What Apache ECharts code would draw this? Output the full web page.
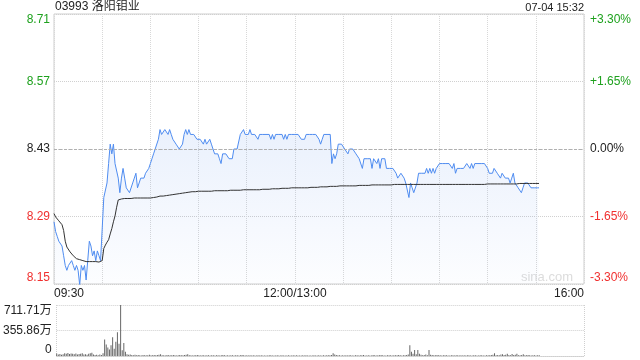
<!DOCTYPE html>
<html><head><meta charset="utf-8">
<script src="https://cdn.jsdelivr.net/npm/echarts@6/dist/echarts.min.js"></script>
<style>html,body{margin:0;padding:0;background:#fff}#c{width:640px;height:360px}</style>
</head><body><div id="c"></div>
<script>
const titleText = '03993 洛阳钼业';
const stampText = '07-04 15:32';
const prevClose = 8.43;
const priceTickLabels = ['8.15','8.29','8.43','8.57','8.71'];
const pctTickLabels = ['-3.30%','-1.65%','0.00%','+1.65%','+3.30%'];
const volTickLabels = ['0','355.86万','711.71万'];
const volMax = 711.71;
const timeTickValues = [0,150,330];
const timeTickLabels = ['09:30','12:00/13:00','16:00'];

// one value per minute from 09:30 (index 0) to 15:32 (index 302)
const prices = [
8.28,8.26,8.25,8.24,8.24,8.23,8.21,8.19,8.18,8.19,
8.19,8.20,8.19,8.18,8.19,8.18,8.15,8.19,8.18,8.19,
8.16,8.20,8.24,8.23,8.21,8.22,8.20,8.22,8.21,8.20,
8.20,8.33,8.33,8.36,8.40,8.44,8.42,8.44,8.40,8.40,
8.37,8.34,8.37,8.39,8.37,8.35,8.35,8.34,8.34,8.36,
8.37,8.38,8.35,8.35,8.37,8.37,8.37,8.38,8.38,8.39,
8.40,8.41,8.42,8.43,8.43,8.45,8.47,8.46,8.46,8.47,
8.47,8.46,8.47,8.46,8.45,8.45,8.44,8.44,8.43,8.43,
8.44,8.46,8.47,8.46,8.47,8.46,8.46,8.46,8.46,8.45,
8.45,8.45,8.45,8.44,8.45,8.44,8.44,8.45,8.44,8.44,
8.42,8.42,8.42,8.41,8.40,8.42,8.42,8.42,8.42,8.41,
8.41,8.41,8.43,8.43,8.43,8.43,8.46,8.46,8.47,8.46,
8.46,8.46,8.47,8.46,8.46,8.46,8.46,8.45,8.46,8.46,
8.46,8.46,8.46,8.46,8.46,8.45,8.46,8.45,8.46,8.46,
8.46,8.46,8.46,8.45,8.46,8.45,8.46,8.46,8.46,8.46,
8.46,8.46,8.46,8.46,8.45,8.45,8.45,8.46,8.46,8.46,
8.46,8.46,8.46,8.46,8.46,8.45,8.44,8.45,8.46,8.46,
8.46,8.46,8.46,8.40,8.42,8.41,8.42,8.44,8.44,8.44,
8.44,8.43,8.43,8.42,8.43,8.43,8.43,8.43,8.42,8.42,
8.41,8.41,8.39,8.41,8.41,8.41,8.41,8.41,8.39,8.41,
8.41,8.40,8.41,8.39,8.41,8.41,8.41,8.39,8.39,8.39,
8.39,8.39,8.39,8.38,8.37,8.37,8.38,8.38,8.37,8.36,
8.36,8.33,8.36,8.35,8.34,8.34,8.36,8.38,8.38,8.38,
8.38,8.38,8.39,8.38,8.39,8.38,8.39,8.38,8.39,8.39,
8.40,8.40,8.40,8.40,8.40,8.40,8.40,8.40,8.39,8.40,
8.38,8.39,8.39,8.39,8.39,8.39,8.39,8.40,8.40,8.39,
8.40,8.39,8.40,8.40,8.40,8.40,8.40,8.40,8.40,8.40,
8.39,8.38,8.38,8.38,8.39,8.39,8.38,8.38,8.37,8.38,
8.38,8.37,8.37,8.37,8.36,8.37,8.38,8.36,8.36,8.35,
8.35,8.34,8.35,8.36,8.36,8.36,8.36,8.35,8.35,8.35,
8.35,8.35,8.35
];

const avgPrices = [
8.297,8.290,8.286,8.282,8.278,8.274,8.262,8.240,8.228,8.224,
8.218,8.214,8.210,8.207,8.204,8.203,8.202,8.201,8.200,8.199,
8.198,8.198,8.198,8.198,8.198,8.198,8.198,8.198,8.197,8.197,
8.200,8.225,8.232,8.238,8.243,8.255,8.266,8.280,8.292,8.310,
8.325,8.326,8.327,8.327,8.328,8.328,8.328,8.328,8.328,8.329,
8.329,8.329,8.329,8.329,8.329,8.329,8.329,8.329,8.329,8.329,
8.329,8.330,8.330,8.331,8.331,8.332,8.333,8.333,8.333,8.334,
8.334,8.334,8.335,8.335,8.336,8.336,8.337,8.337,8.338,8.338,
8.339,8.339,8.340,8.341,8.341,8.341,8.342,8.342,8.342,8.342,
8.343,8.343,8.343,8.343,8.343,8.343,8.343,8.343,8.343,8.344,
8.344,8.344,8.344,8.344,8.344,8.344,8.344,8.344,8.344,8.344,
8.345,8.345,8.345,8.345,8.345,8.345,8.345,8.345,8.346,8.346,
8.346,8.346,8.346,8.346,8.346,8.346,8.346,8.346,8.346,8.346,
8.347,8.347,8.347,8.347,8.347,8.348,8.348,8.348,8.348,8.348,
8.348,8.349,8.349,8.349,8.349,8.349,8.349,8.349,8.350,8.350,
8.350,8.350,8.350,8.350,8.350,8.350,8.350,8.350,8.350,8.350,
8.351,8.351,8.351,8.351,8.351,8.352,8.352,8.352,8.352,8.352,
8.352,8.353,8.353,8.353,8.353,8.353,8.353,8.353,8.354,8.354,
8.354,8.354,8.354,8.354,8.354,8.354,8.354,8.354,8.354,8.354,
8.355,8.355,8.355,8.355,8.355,8.355,8.355,8.356,8.356,8.356,
8.356,8.356,8.356,8.356,8.356,8.356,8.356,8.356,8.356,8.356,
8.356,8.356,8.357,8.357,8.357,8.357,8.357,8.357,8.357,8.357,
8.357,8.357,8.357,8.357,8.357,8.357,8.357,8.357,8.357,8.357,
8.357,8.357,8.357,8.357,8.357,8.357,8.357,8.357,8.357,8.357,
8.357,8.357,8.357,8.357,8.357,8.357,8.357,8.357,8.357,8.357,
8.357,8.357,8.357,8.357,8.357,8.357,8.357,8.357,8.357,8.357,
8.357,8.357,8.357,8.357,8.357,8.357,8.357,8.357,8.357,8.357,
8.358,8.358,8.358,8.358,8.358,8.358,8.358,8.358,8.358,8.358,
8.358,8.358,8.358,8.358,8.358,8.358,8.358,8.358,8.358,8.358,
8.359,8.359,8.359,8.359,8.359,8.359,8.359,8.359,8.359,8.359,
8.359,8.359,8.359
];

// volume per minute, in 万
const volumes = [
35,22,28,18,25,38,30,42,28,35,
30,25,35,20,28,32,40,22,25,18,
30,38,45,20,15,18,12,22,15,40,
230,160,120,90,150,260,100,200,330,170,
711.71,80,180,60,25,18,22,15,12,18,
10,15,12,8,14,10,9,12,16,10,
12,15,10,14,18,25,12,10,8,14,
10,12,9,15,11,8,10,13,9,12,
14,18,25,12,10,8,11,9,13,10,
8,11,9,7,12,10,8,9,11,7,
12,9,8,10,14,11,7,9,8,10,
9,8,12,10,7,9,14,11,8,10,
7,9,8,10,6,8,9,7,11,8,
6,8,7,9,10,8,6,7,9,8,
7,9,6,8,7,10,8,6,9,7,
12,8,6,7,9,8,10,7,6,8,
7,9,8,6,10,8,7,9,8,12,
10,9,14,40,22,15,12,10,8,9,
8,10,7,9,12,8,7,9,10,8,
9,12,15,8,7,10,8,6,14,9,
8,10,12,14,9,8,7,12,10,9,
8,10,9,12,14,10,8,12,9,15,
20,150,60,30,85,25,85,30,18,12,
15,20,12,85,18,14,12,10,15,12,
10,8,9,12,10,8,7,9,10,8,
12,9,8,10,7,9,8,10,9,7,
8,10,9,7,8,10,9,8,7,9,
10,12,15,18,40,12,15,10,20,25,
15,18,30,14,12,28,15,18,30,12,
10,15,25,12,10,14,9,8,12,10,
8,10,12
];

const FONT = '"Liberation Sans","Noto Sans CJK SC",sans-serif';
const toPct = p => (p / prevClose - 1) * 100;
const priceData = prices.map((p, i) => [i, toPct(p)]);
const avgData = avgPrices.map((p, i) => [i, toPct(p)]);
const volData = volumes.map((v, i) => [i, v]);
const pctIdx = v => Math.round(v / 1.65) + 2;

const chart = echarts.init(document.getElementById('c'), null, {renderer: 'canvas'});
chart.setOption({
  animation: false,
  backgroundColor: '#fff',
  textStyle: {fontFamily: FONT},
  graphic: [
    {type: 'text', left: 55, top: 1, style: {text: titleText, font: '12px ' + FONT, fill: '#222'}},
    {type: 'text', right: 56, top: 2, style: {text: stampText, font: '11px ' + FONT, fill: '#222'}},
    {type: 'text', right: 67, top: 271, z: 0, style: {text: 'sina.com', font: '13px ' + FONT, fill: '#dcdcdc'}}
  ],
  grid: [
    {left: 54, right: 56, top: 14, height: 270, show: true, borderColor: '#cfcfcf', borderWidth: 1},
    {left: 54, right: 56, top: 305, height: 51, show: false}
  ],
  xAxis: [
    {type: 'value', gridIndex: 0, min: 0, max: 330, interval: 30,
     axisLine: {show: false}, axisTick: {show: false},
     splitLine: {show: true, lineStyle: {color: '#d8d8d8', type: 'dotted'}},
     axisLabel: {show: true, margin: 4, color: '#222', fontSize: 12, fontFamily: FONT,
       alignMinLabel: 'left', alignMaxLabel: 'right', showMinLabel: true, showMaxLabel: true,
       formatter: v => { const k = timeTickValues.indexOf(Math.round(v)); return k >= 0 ? timeTickLabels[k] : ''; }}},
    {type: 'value', gridIndex: 1, min: 0, max: 330, interval: 330,
     axisLine: {show: true, lineStyle: {color: '#cfcfcf', type: 'dotted'}}, axisTick: {show: false}, axisLabel: {show: false},
     splitLine: {show: true, lineStyle: {color: '#cfcfcf', type: 'dotted'}}}
  ],
  yAxis: [
    {type: 'value', gridIndex: 0, position: 'left', min: -3.30, max: 3.30, interval: 1.65,
     axisLine: {show: false}, axisTick: {show: false},
     splitLine: {show: true, lineStyle: {color: '#d0d0d0', type: 'dotted'}},
     axisLabel: {margin: 4, fontSize: 12, fontFamily: FONT,
       verticalAlignMinLabel: 'bottom', verticalAlignMaxLabel: 'top',
       formatter: v => priceTickLabels[pctIdx(v)],
       color: v => { const k = pctIdx(v); return k < 2 ? '#f0302f' : (k > 2 ? '#1ea11e' : '#222'); }}},
    {type: 'value', gridIndex: 0, position: 'right', min: -3.30, max: 3.30, interval: 1.65,
     axisLine: {show: false}, axisTick: {show: false}, splitLine: {show: false},
     axisLabel: {margin: 6, fontSize: 12, fontFamily: FONT,
       verticalAlignMinLabel: 'bottom', verticalAlignMaxLabel: 'top',
       formatter: v => pctTickLabels[pctIdx(v)],
       color: v => { const k = pctIdx(v); return k < 2 ? '#f0302f' : (k > 2 ? '#1ea11e' : '#222'); }}},
    {type: 'value', gridIndex: 1, position: 'left', min: 0, max: volMax, interval: volMax / 2,
     axisLine: {show: false}, axisTick: {show: false},
     splitLine: {show: true, lineStyle: {color: '#cfcfcf', type: 'dotted'}},
     axisLabel: {margin: 5, fontSize: 12, color: '#222', fontFamily: FONT,
       verticalAlignMinLabel: 'bottom', verticalAlignMaxLabel: 'top',
       formatter: v => volTickLabels[Math.round(v / (volMax / 2))]}}
  ],
  series: [
    {type: 'line', xAxisIndex: 0, yAxisIndex: 0, data: priceData, showSymbol: false, symbol: 'none',
     lineStyle: {color: '#4f8cf0', width: 1},
     areaStyle: {origin: 'start', color: new echarts.graphic.LinearGradient(0, 0, 0, 1, [
       {offset: 0, color: 'rgba(70,130,235,0.16)'}, {offset: 1, color: 'rgba(70,130,235,0.02)'}])},
     markLine: {silent: true, symbol: 'none', label: {show: false},
       lineStyle: {color: '#b0b0b0', type: [3, 2], width: 1}, data: [{yAxis: 0}]}},
    {type: 'line', xAxisIndex: 0, yAxisIndex: 0, data: avgData, showSymbol: false, symbol: 'none',
     lineStyle: {color: '#333', width: 1}},
    {type: 'bar', xAxisIndex: 1, yAxisIndex: 2, data: volData, barWidth: 1,
     itemStyle: {color: '#666'}}
  ]
});
</script></body></html>
